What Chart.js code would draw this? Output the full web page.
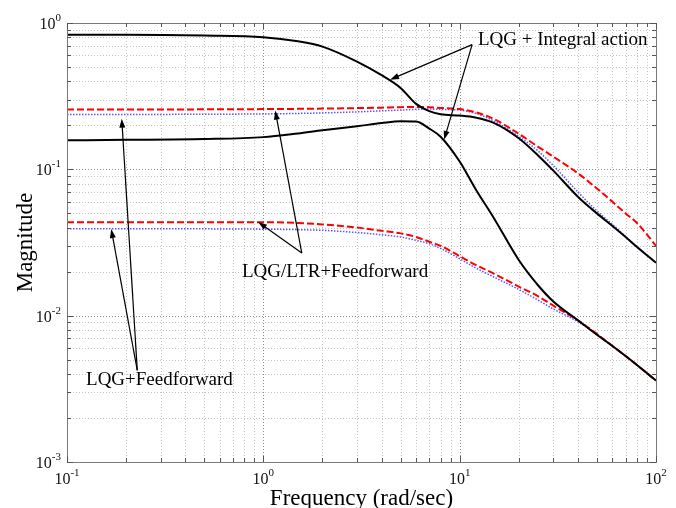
<!DOCTYPE html>
<html><head><meta charset="utf-8">
<script src="https://cdn.jsdelivr.net/npm/chart.js@4"></script>
<style>html,body{margin:0;padding:0;background:#fff;overflow:hidden}</style>
</head><body>
<canvas id="c" width="676" height="508"></canvas>
<script>
// ---- data ----
const freq = [0.1, 0.2, 0.5, 1, 1.5, 2, 3, 4, 5, 6, 7, 8, 10, 12, 15, 20, 25, 30, 40, 50, 60, 70, 80, 100];
// LQG + Integral action (black solid)
const lqgIntUpper = [0.83, 0.83, 0.82, 0.80, 0.75, 0.69, 0.545, 0.44, 0.36, 0.28, 0.25, 0.238, 0.233, 0.226, 0.207, 0.163, 0.125, 0.098, 0.065, 0.050, 0.041, 0.0345, 0.0295, 0.023];
const lqgIntLower = [0.158, 0.159, 0.161, 0.166, 0.176, 0.185, 0.197, 0.207, 0.213, 0.212, 0.19, 0.167, 0.113, 0.074, 0.046, 0.024, 0.0162, 0.0125, 0.0093, 0.0074, 0.0062, 0.0053, 0.0046, 0.0036];
// LQG/LTR + Feedforward (red dashed)
const ltrFfUpper = [0.256, 0.256, 0.257, 0.258, 0.259, 0.26, 0.262, 0.264, 0.266, 0.267, 0.266, 0.263, 0.258, 0.246, 0.22, 0.175, 0.143, 0.122, 0.094, 0.074, 0.060, 0.050, 0.043, 0.030];
const ltrFfLower = [0.0435, 0.0435, 0.0435, 0.0435, 0.043, 0.042, 0.040, 0.038, 0.0365, 0.0345, 0.032, 0.030, 0.0255, 0.0223, 0.0193, 0.0158, 0.0136, 0.0117, 0.0093, 0.0075, 0.0062, 0.0053, 0.0046, 0.0036];
// LQG + Feedforward (blue dotted)
const lqgFfUpper = [0.237, 0.237, 0.238, 0.239, 0.241, 0.243, 0.247, 0.251, 0.254, 0.257, 0.258, 0.257, 0.254, 0.242, 0.213, 0.168, 0.134, 0.106, 0.070, 0.052, 0.042, 0.0348, 0.0297, 0.023];
const lqgFfLower = [0.0393, 0.0393, 0.0392, 0.039, 0.0387, 0.0383, 0.037, 0.0357, 0.0345, 0.0327, 0.031, 0.0288, 0.0245, 0.0213, 0.0183, 0.0151, 0.0128, 0.0111, 0.0091, 0.0075, 0.0062, 0.0053, 0.0046, 0.0036];

// tick labels
const xMajor = [0.1, 1, 10, 100];
const xExp = ['-1', '0', '1', '2'];
const yMajor = [0.001, 0.01, 0.1, 1];
const yExp = ['-3', '-2', '-1', '0'];
const xTitle = 'Frequency (rad/sec)';
const yTitle = 'Magnitude';

// annotations (in data coordinates)
const annoTexts = [
  {text: 'LQG + Integral action', x: 12.4, y: 0.771},
  {text: 'LQG/LTR+Feedforward', x: 0.778, y: 0.0199},
  {text: 'LQG+Feedforward', x: 0.125, y: 0.00362}
];
const annoArrows = [
  {from: [11.57, 0.712], to: [4.42, 0.410]},
  {from: [11.57, 0.712], to: [8.33, 0.159]},
  {from: [1.57, 0.0268], to: [1.15, 0.252]},
  {from: [1.57, 0.0268], to: [0.94, 0.0437]},
  {from: [0.228, 0.00423], to: [0.190, 0.222]},
  {from: [0.228, 0.00423], to: [0.168, 0.0391]}
];

const FONT = "'Liberation Serif', 'Times New Roman', serif";

function pts(vals) { return freq.map((f, i) => ({x: f, y: vals[i]})); }
function minorTicks(majors) {
  const out = [];
  for (let i = 0; i < majors.length; i++) {
    out.push({v: majors[i], major: true});
    if (i < majors.length - 1) for (let k = 2; k <= 9; k++) out.push({v: majors[i] * k, major: false});
  }
  return out;
}
const xTicks = minorTicks(xMajor);
const yTicks = minorTicks(yMajor);

const blk = {borderColor: '#000', borderWidth: 2, borderDash: []};
const red = {borderColor: '#ff0000', borderWidth: 2, borderDash: [7, 3]};
const blu = {borderColor: 'rgba(70,70,255,0.9)', borderWidth: 1.5, borderDash: [1.5, 1.5]};

const decor = {
  id: 'decor',
  beforeDatasetsDraw(chart) {
    const {ctx, chartArea: a, scales: {x, y}} = chart;
    ctx.save();
    ctx.lineWidth = 1;
    ctx.setLineDash([1, 2]);
    xTicks.forEach(t => {
      const px = Math.round(x.getPixelForValue(t.v)) + 0.5;
      ctx.strokeStyle = t.major ? '#8c8c8c' : '#c4c4c4';
      ctx.beginPath(); ctx.moveTo(px, a.top); ctx.lineTo(px, a.bottom); ctx.stroke();
    });
    yTicks.forEach(t => {
      const py = Math.round(y.getPixelForValue(t.v)) + 0.5;
      ctx.strokeStyle = t.major ? '#8c8c8c' : '#c4c4c4';
      ctx.beginPath(); ctx.moveTo(a.left, py); ctx.lineTo(a.right, py); ctx.stroke();
    });
    ctx.restore();
  },
  afterDatasetsDraw(chart) {
    const {ctx, chartArea: a, scales: {x, y}} = chart;
    ctx.save();
    // box
    ctx.setLineDash([]);
    ctx.strokeStyle = '#7a7a7a';
    ctx.lineWidth = 1;
    ctx.strokeRect(Math.round(a.left) + 0.5, Math.round(a.top) + 0.5, Math.round(a.right - a.left), Math.round(a.bottom - a.top));
    // inward ticks
    ctx.strokeStyle = '#555';
    xTicks.forEach(t => {
      const px = Math.round(x.getPixelForValue(t.v)) + 0.5;
      const L = t.major ? 6 : 4;
      ctx.beginPath();
      ctx.moveTo(px, a.bottom); ctx.lineTo(px, a.bottom - L);
      ctx.moveTo(px, a.top); ctx.lineTo(px, a.top + L);
      ctx.stroke();
    });
    yTicks.forEach(t => {
      const py = Math.round(y.getPixelForValue(t.v)) + 0.5;
      const L = t.major ? 6 : 4;
      ctx.beginPath();
      ctx.moveTo(a.left, py); ctx.lineTo(a.left + L, py);
      ctx.moveTo(a.right, py); ctx.lineTo(a.right - L, py);
      ctx.stroke();
    });
    // tick labels
    ctx.fillStyle = '#111';
    ctx.textBaseline = 'alphabetic';
    const base = '16px ' + FONT, sup = '11px ' + FONT;
    function measure(e) {
      ctx.font = base; const w1 = ctx.measureText('10').width;
      ctx.font = sup; const w2 = ctx.measureText(e).width;
      return [w1, w2];
    }
    function drawLbl(left, baseY, e, w1) {
      ctx.font = base; ctx.textAlign = 'left'; ctx.fillText('10', left, baseY);
      ctx.font = sup; ctx.fillText(e, left + w1, baseY - 8);
    }
    xMajor.forEach((v, i) => {
      const px = x.getPixelForValue(v);
      const [w1, w2] = measure(xExp[i]);
      drawLbl(px - (w1 + w2) / 2, 484, xExp[i], w1);
    });
    yMajor.forEach((v, i) => {
      const py = y.getPixelForValue(v);
      const [w1, w2] = measure(yExp[i]);
      drawLbl(a.left - 6 - w1 - w2, py + 6, yExp[i], w1);
    });
    // axis titles
    ctx.font = '23px ' + FONT;
    ctx.textAlign = 'center';
    ctx.fillStyle = '#000';
    ctx.fillText(xTitle, (a.left + a.right) / 2, 505);
    ctx.save();
    ctx.translate(32, (a.top + a.bottom) / 2);
    ctx.rotate(-Math.PI / 2);
    ctx.fillText(yTitle, 0, 0);
    ctx.restore();
    // annotations
    ctx.font = '19px ' + FONT;
    ctx.textAlign = 'left';
    ctx.textBaseline = 'middle';
    annoTexts.forEach(t => ctx.fillText(t.text, x.getPixelForValue(t.x), y.getPixelForValue(t.y)));
    ctx.strokeStyle = '#000';
    ctx.fillStyle = '#000';
    ctx.lineWidth = 1.2;
    annoArrows.forEach(ar => {
      const x1 = x.getPixelForValue(ar.from[0]), y1 = y.getPixelForValue(ar.from[1]);
      const x2 = x.getPixelForValue(ar.to[0]), y2 = y.getPixelForValue(ar.to[1]);
      const ang = Math.atan2(y2 - y1, x2 - x1), L = 9, W = 3;
      ctx.beginPath(); ctx.moveTo(x1, y1); ctx.lineTo(x2 - (L - 2) * Math.cos(ang), y2 - (L - 2) * Math.sin(ang)); ctx.stroke();
      ctx.beginPath();
      ctx.moveTo(x2, y2);
      ctx.lineTo(x2 - L * Math.cos(ang) + W * Math.sin(ang), y2 - L * Math.sin(ang) - W * Math.cos(ang));
      ctx.lineTo(x2 - L * Math.cos(ang) - W * Math.sin(ang), y2 - L * Math.sin(ang) + W * Math.cos(ang));
      ctx.closePath(); ctx.fill();
    });
    ctx.restore();
  }
};

new Chart(document.getElementById('c'), {
  type: 'line',
  data: {
    datasets: [
      Object.assign({label: 'LQG + Integral action (upper)', data: pts(lqgIntUpper)}, blk),
      Object.assign({label: 'LQG + Integral action (lower)', data: pts(lqgIntLower)}, blk),
      Object.assign({label: 'LQG/LTR+Feedforward (upper)', data: pts(ltrFfUpper)}, red),
      Object.assign({label: 'LQG/LTR+Feedforward (lower)', data: pts(ltrFfLower)}, red),
      Object.assign({label: 'LQG+Feedforward (upper)', data: pts(lqgFfUpper)}, blu),
      Object.assign({label: 'LQG+Feedforward (lower)', data: pts(lqgFfLower)}, blu)
    ]
  },
  options: {
    responsive: false,
    animation: false,
    devicePixelRatio: 1,
    layout: {padding: {left: 0, top: 23, right: 20, bottom: 0}},
    elements: {point: {radius: 0}, line: {cubicInterpolationMode: 'monotone', fill: false}},
    plugins: {legend: {display: false}, tooltip: {enabled: false}},
    scales: {
      x: {
        type: 'logarithmic', min: 0.1, max: 100,
        grid: {display: false}, border: {display: false},
        ticks: {display: false},
        afterBuildTicks(s) { s.ticks = xTicks.map(t => ({value: t.v, major: t.major})); },
        afterFit(s) { s.height = 46; }
      },
      y: {
        type: 'logarithmic', min: 0.001, max: 1,
        grid: {display: false}, border: {display: false},
        ticks: {display: false},
        afterBuildTicks(s) { s.ticks = yTicks.map(t => ({value: t.v, major: t.major})); },
        afterFit(s) { s.width = 67; }
      }
    }
  },
  plugins: [decor]
});
</script>
</body></html>
